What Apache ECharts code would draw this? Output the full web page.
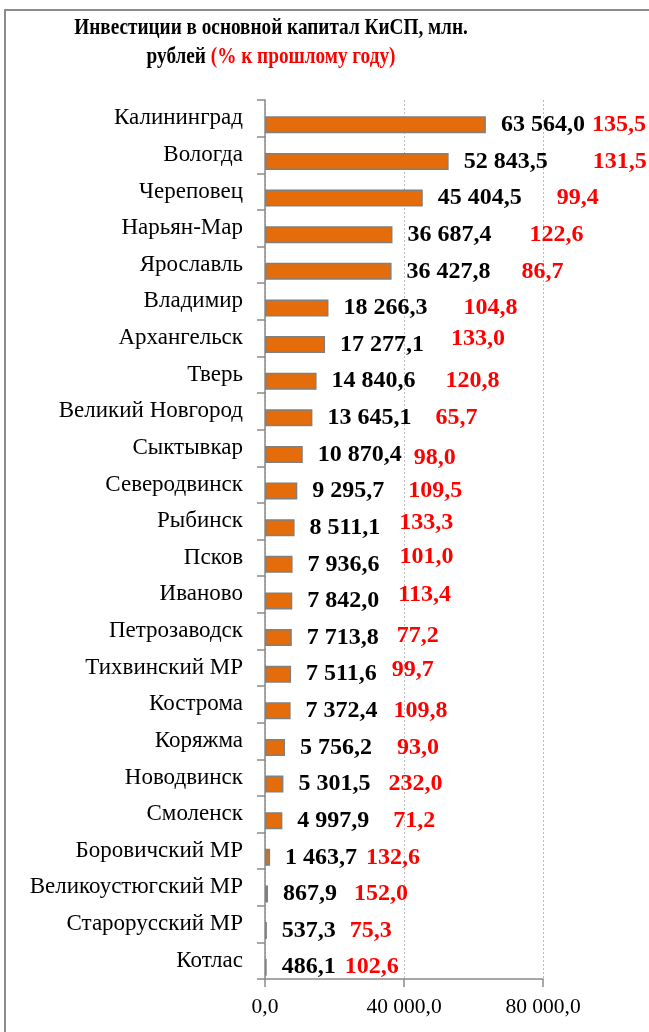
<!DOCTYPE html>
<html>
<head>
<meta charset="utf-8">
<script src="https://cdn.jsdelivr.net/npm/echarts@6/dist/echarts.min.js"></script>
<style>
html,body{margin:0;padding:0;background:#fff;}
#chart{width:649px;height:1032px;}
</style>
</head>
<body>
<div id="chart"></div>
<script>
const categories = ["Калининград","Вологда","Череповец","Нарьян-Мар","Ярославль","Владимир","Архангельск","Тверь","Великий Новгород","Сыктывкар","Северодвинск","Рыбинск","Псков","Иваново","Петрозаводск","Тихвинский МР","Кострома","Коряжма","Новодвинск","Смоленск","Боровичский МР","Великоустюгский МР","Старорусский МР","Котлас"];
const investments = [63564.0,52843.5,45404.5,36687.4,36427.8,18266.3,17277.1,14840.6,13645.1,10870.4,9295.7,8511.1,7936.6,7842.0,7713.8,7511.6,7372.4,5756.2,5301.5,4997.9,1463.7,867.9,537.3,486.1];
const percentPrevYear = [135.5,131.5,99.4,122.6,86.7,104.8,133.0,120.8,65.7,98.0,109.5,133.3,101.0,113.4,77.2,99.7,109.8,93.0,232.0,71.2,132.6,152.0,75.3,102.6];
const xTicks = {min: 0, max: 80000, interval: 40000};

// label layout: horizontal spacing and vertical shift of the percent labels
const pctGaps = [7,45,35,38,31,36,27,30,24,12,24,19,20,19,18,15,16,25,18,24,9,17,14,9];
const pctShiftUp = [0,0,0,0,0,0,6,0,0,-3,0,5,8,6,2,4,0,0,0,0,0,0,0,0];

function fmt(v){
  const s = v.toFixed(1);
  const parts = s.split('.');
  const intPart = parts[0].replace(/\B(?=(\d{3})+(?!\d))/g, ' ');
  return intPart + ',' + parts[1];
}

const rich = {
  v: {fontFamily: 'Liberation Serif', fontWeight: 'bold', fontSize: 24, color: '#000'}
};
pctGaps.forEach((g, i) => {
  rich['g' + i] = {width: g};
  const s = pctShiftUp[i];
  rich['p' + i] = {
    fontFamily: 'Liberation Serif', fontWeight: 'bold', fontSize: 24, color: '#FF0000',
    padding: s >= 0 ? [0, 0, 2 * s, 0] : [-2 * s, 0, 0, 0]
  };
});

const chart = echarts.init(document.getElementById('chart'), null, {renderer: 'canvas'});
chart.setOption({
  backgroundColor: '#fff',
  animation: false,
  graphic: [{
    type: 'rect', silent: true, z: 100,
    shape: {x: 5, y: 10, width: 720, height: 1100},
    style: {fill: 'none', stroke: '#8c8c8c', lineWidth: 2}
  }, {
    type: 'text', x: 271, y: 14, scaleX: 0.855, silent: true,
    style: {
      text: '{a|Инвестиции в основной капитал КиСП, млн.}\n{a|рублей }{r|(% к прошлому году)}',
      align: 'center', verticalAlign: 'top',
      rich: {
        a: {fontFamily: 'Liberation Serif', fontWeight: 'bold', fontSize: 22.5, fill: '#000', lineHeight: 29},
        r: {fontFamily: 'Liberation Serif', fontWeight: 'bold', fontSize: 22.5, fill: '#FF0000', lineHeight: 29}
      }
    }
  }],
  grid: {left: 265, right: 106, top: 100, bottom: 53, containLabel: false},
  xAxis: {
    type: 'value', min: xTicks.min, max: xTicks.max, interval: xTicks.interval,
    axisLine: {show: true, lineStyle: {color: '#8a8a8a', width: 1.5}},
    axisTick: {show: true, length: 8, lineStyle: {color: '#8a8a8a', width: 1.5}},
    splitLine: {show: true, lineStyle: {color: '#bdbdbd', type: [2, 2], width: 1}},
    axisLabel: {fontFamily: 'Liberation Serif', fontSize: 21.5, color: '#000', margin: 17, formatter: v => fmt(v)}
  },
  yAxis: {
    type: 'category', data: categories, inverse: true,
    axisLine: {show: true, lineStyle: {color: '#8a8a8a', width: 1.5}},
    axisTick: {show: true, length: 8, lineStyle: {color: '#8a8a8a', width: 1.5}},
    axisLabel: {fontFamily: 'Liberation Serif', fontSize: 23, color: '#000', margin: 22}
  },
  series: [
    {
      type: 'bar', name: 'spacer', data: categories.map(() => '-'),
      barWidth: 13, barGap: '0%', silent: true,
      itemStyle: {color: 'rgba(0,0,0,0)'}
    },
    {
      type: 'bar', name: 'Инвестиции', data: investments,
      barWidth: 17,
      itemStyle: {color: '#E46C0A', borderColor: '#808080', borderWidth: 1.5},
      label: {
        show: true, position: 'right', distance: 15,
        formatter: p => '{v|' + fmt(p.value) + '}{g' + p.dataIndex + '|}{p' + p.dataIndex + '|' + fmt(percentPrevYear[p.dataIndex]) + '}',
        rich: rich
      }
    }
  ]
});
</script>
</body>
</html>
